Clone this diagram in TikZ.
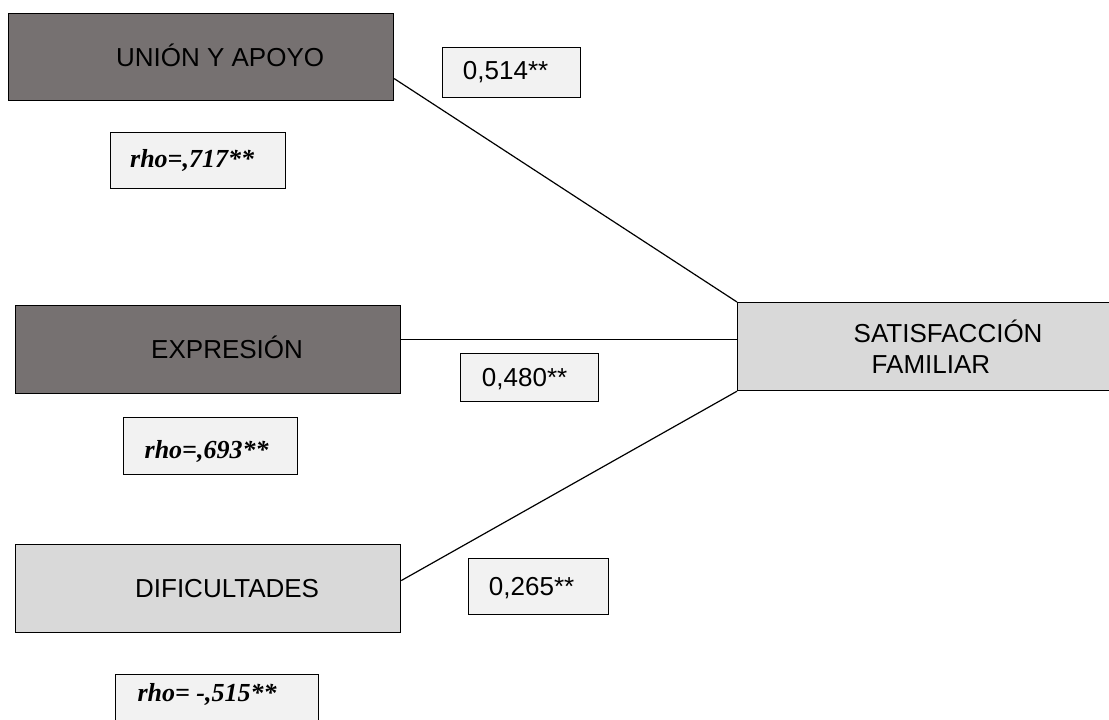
\documentclass[tikz,border=0pt]{standalone}
\usepackage{fontspec}
\usepackage{tikz}
\usetikzlibrary{positioning}
\newfontfamily\arialf{Liberation Sans}
\newfontfamily\timesf{Liberation Serif}
\definecolor{cDark}{RGB}{118,113,113}
\definecolor{cLight}{RGB}{217,217,217}
\definecolor{cPale}{RGB}{242,242,242}
\newcommand{\padL}{\hspace*{19pt}}
\newcommand{\padR}[1][6pt]{\hspace*{#1}}

\begin{document}
\begin{tikzpicture}[x=0.5pt,y=-0.5pt,
   dk/.style={draw,line width=0.6pt,fill=cDark,anchor=north west,minimum width=192.5pt,minimum height=44pt,inner sep=0pt,font=\arialf\fontsize{13}{15.6}\selectfont,text height=9.3pt,text depth=0pt},
   lt/.style={dk,fill=cLight},
   val/.style={draw,line width=0.6pt,fill=cPale,anchor=north west,inner sep=0pt,font=\arialf\fontsize{13}{15.6}\selectfont,text height=9.3pt,text depth=0pt},
   rh/.style={draw,line width=0.6pt,fill=cPale,inner sep=0pt,font=\timesf\bfseries\itshape\fontsize{13}{15.6}\selectfont,text height=7pt,text depth=0pt,minimum height=28pt},
   a/.style={line width=0.6pt}]
  \useasboundingbox (0,0) rectangle (1109,719);
  \node[dk,minimum height=43.5pt] (un) at (8,13) {\padL UNIÓN Y APOYO};
  \node[dk] (ex) at (15,305) {\padL EXPRESIÓN};
  \node[lt] (di) at (15,544) {\padL DIFICULTADES};
  \node[lt,minimum width=210.5pt,align=left,text height={},text depth={},font=\arialf\fontsize{13}{15.5}\selectfont] (sat) at (737,302) {SATISFACCIÓN\\\hspace*{9pt}FAMILIAR};
  \node[rh,minimum width=87.5pt,below=15.5pt of un,xshift=-1.5pt] (r1) {rho=,717**\padR};
  \node[rh,minimum width=87pt,minimum height=28.5pt,text height=12pt,below=11.5pt of ex,xshift=1.25pt] (r2) {rho=,693**\padR[4pt]};
  \node[rh,minimum width=101.5pt,text height=4pt,text depth=5pt,below=20.5pt of di,xshift=4.5pt] (r3) {rho= -,515**\padR[10pt]};
  \node[val,minimum width=69pt,minimum height=25pt,text height=7pt] (v1) at (442,47) {0,514**\padR};
  \node[val,minimum width=69pt,minimum height=24pt] (v2) at (460,353) {0,480**\padR[5pt]};
  \node[val,minimum width=70pt,minimum height=28pt] (v3) at (468,558) {0,265**\padR[7pt]};
  \draw[a] ([yshift=-10.75pt]un.east) -- (sat.north west);
  \coordinate (exo) at ([yshift=5pt]ex.east);
  \draw[a] (exo) -- (exo -| sat.west);
  \draw[a] ([yshift=4pt]di.east) -- (sat.south west);
\end{tikzpicture}
\end{document}
